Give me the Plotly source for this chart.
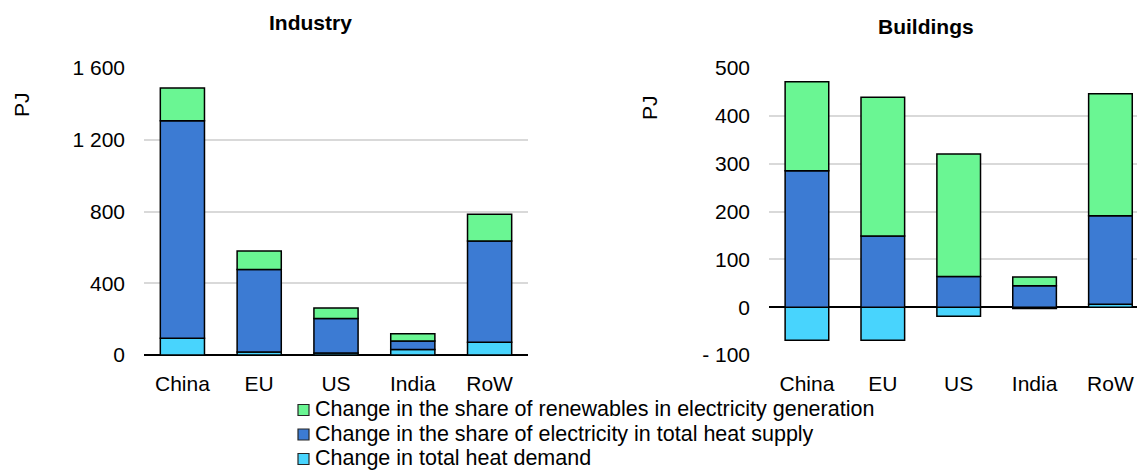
import plotly.graph_objects as go

# --- Data (PJ) ---
regions = ["China", "EU", "US", "India", "RoW"]

industry_heat_demand = [93, 17, 11, 30, 71]
industry_elec_share = [1213, 459, 192, 48, 565]
industry_renew_share = [182, 104, 59, 41, 149]

buildings_heat_demand = [-69, -69, -19, -3, 6]
buildings_elec_share = [285, 149, 64, 45, 185]
buildings_renew_share = [186, 290, 256, 18, 255]

industry_ticks = [0, 400, 800, 1200, 1600]
industry_ticktext = ["0", "400", "800", "1 200", "1 600"]
buildings_ticks = [-100, 0, 100, 200, 300, 400, 500]
buildings_ticktext = ["- 100", "0", "100", "200", "300", "400", "500"]

series_names = [
    "Change in total heat demand",
    "Change in the share of electricity in total heat supply",
    "Change in the share of renewables in electricity generation",
]
series_colors = ["#48D4FD", "#3C7BD3", "#6AF693"]

W, H = 1137, 471
FONT = "Liberation Sans, Arial, sans-serif"


def px_x(x):
    return x / W


def px_y(y):
    return 1 - y / H


fig = go.Figure()

industry = [industry_heat_demand, industry_elec_share, industry_renew_share]
buildings = [buildings_heat_demand, buildings_elec_share, buildings_renew_share]

for vals, name, color in zip(industry, series_names, series_colors):
    fig.add_trace(go.Bar(
        x=regions, y=vals, name=name, xaxis="x", yaxis="y",
        marker=dict(color=color, line=dict(color="black", width=1.5)),
        showlegend=False,
    ))

for vals, name, color in zip(buildings, series_names, series_colors):
    fig.add_trace(go.Bar(
        x=regions, y=vals, name=name, xaxis="x2", yaxis="y2",
        marker=dict(color=color, line=dict(color="black", width=1.5)),
        showlegend=False,
    ))

y_dom = [px_y(355), px_y(68)]
tickfont = dict(family=FONT, size=21, color="black")

fig.update_layout(
    width=W, height=H,
    margin=dict(l=0, r=0, t=0, b=0),
    paper_bgcolor="white", plot_bgcolor="white",
    barmode="relative", bargap=0.425,
    font=dict(family=FONT, color="black"),
    xaxis=dict(domain=[px_x(144), px_x(528)], anchor="y", range=[-0.5, 4.5],
               showgrid=False, showline=False, ticks="", tickfont=tickfont,
               ticklabelstandoff=14, automargin=False),
    yaxis=dict(domain=y_dom, anchor="x", range=[0, 1600],
               tickvals=industry_ticks, ticktext=industry_ticktext,
               showgrid=True, gridcolor="#D9D9D9", gridwidth=1.5,
               zeroline=True, zerolinecolor="black", zerolinewidth=1.5,
               showline=False, ticks="", tickfont=tickfont, ticklabelstandoff=18,
               automargin=False),
    xaxis2=dict(domain=[px_x(769), 1.0], anchor="y2", range=[-0.5, 4.35],
                showgrid=False, showline=False, ticks="", tickfont=tickfont,
                ticklabelstandoff=14, automargin=False),
    yaxis2=dict(domain=y_dom, anchor="x2", range=[-100, 500],
                tickvals=buildings_ticks, ticktext=buildings_ticktext,
                showgrid=True, gridcolor="#D9D9D9", gridwidth=1.5,
                zeroline=True, zerolinecolor="black", zerolinewidth=1.5,
                showline=False, ticks="", tickfont=tickfont, ticklabelstandoff=18,
                automargin=False),
)

# titles and axis labels
annotations = [
    dict(text="<b>Industry</b>", x=px_x(310), y=px_y(23), font=dict(size=21)),
    dict(text="<b>Buildings</b>", x=px_x(926), y=px_y(27), font=dict(size=21)),
    dict(text="PJ", x=px_x(22), y=px_y(105), textangle=-90, font=dict(size=21)),
    dict(text="PJ", x=px_x(650), y=px_y(108), textangle=-90, font=dict(size=21)),
]
for a in annotations:
    a.update(xref="paper", yref="paper", showarrow=False,
             xanchor="center", yanchor="middle")

# legend drawn by hand (tight spacing like the original)
shapes = []
legend_rows = [409, 433.5, 458]
for row_y, idx in zip(legend_rows, [2, 1, 0]):
    shapes.append(dict(type="rect", xref="paper", yref="paper",
                       x0=px_x(298), x1=px_x(309), y0=px_y(row_y + 6.5), y1=px_y(row_y - 4.5),
                       fillcolor=series_colors[idx], line=dict(color="#262626", width=1.2)))
    annotations.append(dict(text=series_names[idx], xref="paper", yref="paper",
                            x=px_x(313), y=px_y(row_y), xanchor="left", yanchor="middle",
                            showarrow=False, font=dict(size=21.5)))

fig.update_layout(annotations=annotations, shapes=shapes)

# no page margin, so the 1137x471 figure fills the window exactly
fig.write_html("out.html", config={"displayModeBar": False},
               post_script="document.body.style.margin='0';document.body.style.overflow='hidden';")
